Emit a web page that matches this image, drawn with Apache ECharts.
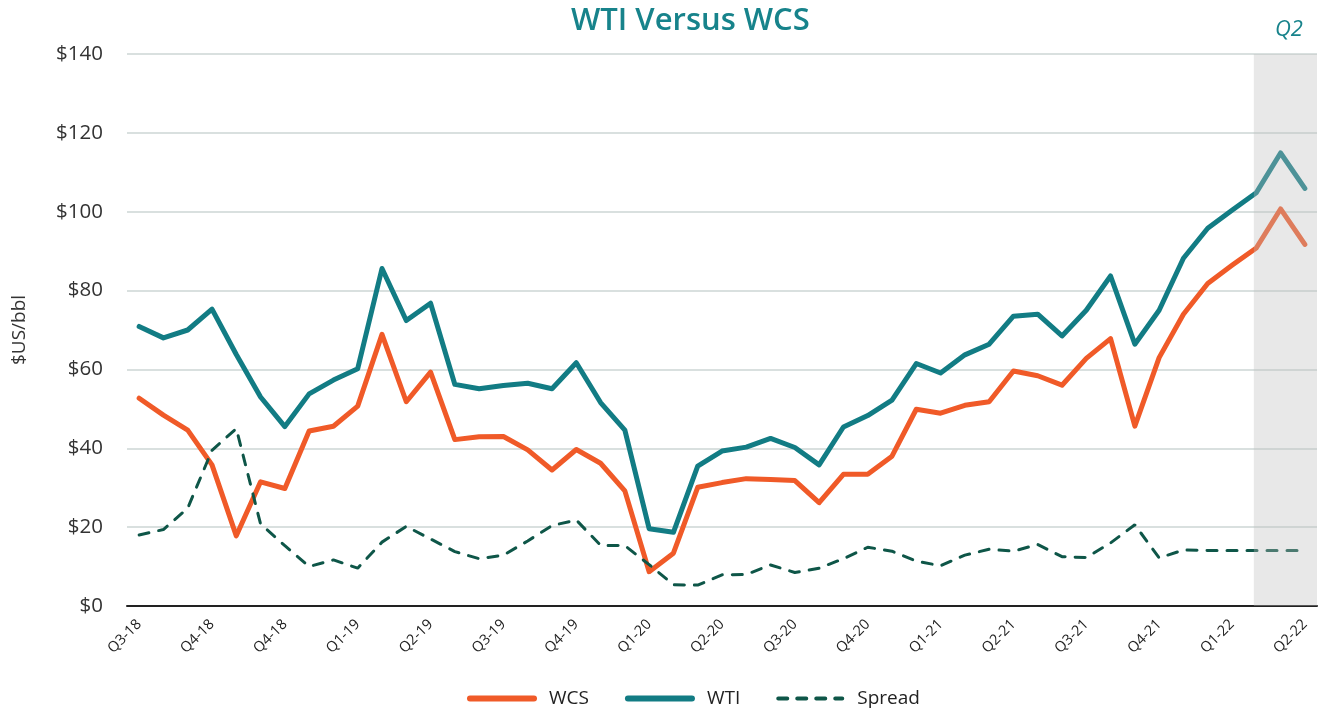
<!DOCTYPE html>
<html>
<head>
<meta charset="utf-8">
<script src="https://cdn.jsdelivr.net/npm/echarts@6/dist/echarts.min.js"></script>
<style>
html,body{margin:0;padding:0;background:#fff;}
#chart{width:1326px;height:713px;}
</style>
</head>
<body>
<div id="chart"></div>
<script>
const months = ['Jul-18','Aug-18','Sep-18','Oct-18','Nov-18','Dec-18','Jan-19','Feb-19','Mar-19','Apr-19','May-19','Jun-19','Jul-19','Aug-19','Sep-19','Oct-19','Nov-19','Dec-19','Jan-20','Feb-20','Mar-20','Apr-20','May-20','Jun-20','Jul-20','Aug-20','Sep-20','Oct-20','Nov-20','Dec-20','Jan-21','Feb-21','Mar-21','Apr-21','May-21','Jun-21','Jul-21','Aug-21','Sep-21','Oct-21','Nov-21','Dec-21','Jan-22','Feb-22','Mar-22','Apr-22','May-22','Jun-22','Jul-22'];
const tickLabels = ['Q3-18','Q4-18','Q4-18','Q1-19','Q2-19','Q3-19','Q4-19','Q1-20','Q2-20','Q3-20','Q4-20','Q1-21','Q2-21','Q3-21','Q4-21','Q1-22','Q2-22'];
const wcs = [52.7,48.4,44.6,35.8,17.8,31.5,29.8,44.4,45.6,50.7,68.9,51.8,59.3,42.2,42.9,43.0,39.6,34.5,39.7,36.2,29.2,8.7,13.4,30.1,31.3,32.3,32.1,31.8,26.2,33.4,33.4,38.0,49.9,48.9,50.9,51.8,59.6,58.4,56.0,62.8,67.8,45.6,63.0,74.0,81.8,86.4,90.8,100.7,91.7];
const wti = [70.9,68.0,70.0,75.3,63.8,53.0,45.5,53.8,57.3,60.2,85.6,72.4,76.8,56.2,55.1,55.9,56.5,55.1,61.7,51.6,44.6,19.6,18.7,35.5,39.3,40.3,42.5,40.2,35.8,45.4,48.3,52.2,61.5,59.1,63.7,66.4,73.5,74.0,68.5,75.0,83.7,66.4,75.0,88.2,95.8,100.4,104.8,114.9,105.9];
const spread = [18.0,19.4,24.8,39.5,45.0,20.8,15.3,10.0,11.7,9.6,16.2,20.2,17.0,13.8,12.0,12.9,16.5,20.4,21.8,15.4,15.3,10.5,5.4,5.3,7.9,8.0,10.4,8.5,9.6,12.0,14.9,13.9,11.4,10.2,12.9,14.4,13.9,15.6,12.5,12.3,16.0,20.6,12.2,14.2,14.1,14.1,14.1,14.1,14.1];
const shadeRange = [46.4, 49];

const FONT = '"Open Sans", "Noto Sans", sans-serif';
const C_WCS = '#f05a28', C_WTI = '#127c84', C_SPR = '#0e5648';
const chart = echarts.init(document.getElementById('chart'), null, {renderer: 'canvas'});
chart.setOption({
  animation: false,
  backgroundColor: '#ffffff',
  title: [{
    text: 'WTI Versus WCS',
    left: 566,
    top: 1,
    textStyle: {color: '#17838b', fontSize: 31, fontWeight: 600, fontFamily: FONT}
  }, {
    text: 'Q2',
    left: 1270,
    top: 14,
    textStyle: {color: '#17838b', fontSize: 22, fontStyle: 'italic', fontWeight: 'normal', fontFamily: FONT}
  }],
  legend: {
    data: [
      {name: 'WCS', lineStyle: {width: 6, cap: 'round'}},
      {name: 'WTI', lineStyle: {width: 6, cap: 'round'}},
      {name: 'Spread', lineStyle: {width: 4, type: [9, 10], cap: 'round'}}
    ],
    bottom: 0,
    left: 462,
    itemWidth: 64,
    itemHeight: 14,
    itemGap: 36,
    itemStyle: {opacity: 0},
    textStyle: {fontSize: 19, color: '#222', fontFamily: FONT, padding: [0, 0, 0, 10]}
  },
  grid: {left: 127, right: 9, top: 54, bottom: 107, containLabel: false},
  xAxis: [{
    type: 'category',
    data: months,
    boundaryGap: true,
    axisLine: {lineStyle: {color: '#222', width: 2}},
    axisTick: {interval: 2, length: 6, lineStyle: {color: '#222', width: 2}},
    axisLabel: {
      interval: 2,
      rotate: 45,
      margin: 16,
      fontSize: 14.5,
      color: '#222',
      fontFamily: FONT,
      formatter: function (v, i) { return tickLabels[Math.round(i / 3)] || ''; }
    },
    splitLine: {show: false}
  }, {
    type: 'value',
    min: 0,
    max: 49,
    show: false
  }],
  yAxis: {
    type: 'value',
    min: 0,
    max: 140,
    interval: 20,
    name: '$US/bbl',
    nameLocation: 'middle',
    nameGap: 98,
    nameRotate: 90,
    nameTextStyle: {fontSize: 19, color: '#333', fontFamily: FONT},
    axisLine: {show: false},
    axisTick: {show: false},
    axisLabel: {
      margin: 24,
      fontSize: 20.5,
      color: '#333',
      fontFamily: FONT,
      formatter: function (v) { return '$' + v; }
    },
    splitLine: {lineStyle: {color: '#d9e0df', width: 2}}
  },
  series: [{
    name: 'WCS',
    type: 'line',
    data: wcs,
    showSymbol: false,
    symbol: 'none',
    itemStyle: {color: C_WCS},
    lineStyle: {color: C_WCS, width: 5, cap: 'round', join: 'round'},
    z: 3
  }, {
    name: 'WTI',
    type: 'line',
    data: wti,
    showSymbol: false,
    symbol: 'none',
    itemStyle: {color: C_WTI},
    lineStyle: {color: C_WTI, width: 5, cap: 'round', join: 'round'},
    z: 3
  }, {
    name: 'Spread',
    type: 'line',
    data: spread,
    showSymbol: false,
    symbol: 'none',
    itemStyle: {color: C_SPR},
    lineStyle: {color: C_SPR, width: 3, type: [10, 10], cap: 'round'},
    z: 3
  }, {
    name: 'shade',
    type: 'line',
    xAxisIndex: 1,
    yAxisIndex: 0,
    data: [],
    silent: true,
    z: 10,
    markArea: {
      silent: true,
      z: 10,
      itemStyle: {color: 'rgba(190,190,190,0.35)'},
      data: [[{xAxis: shadeRange[0], yAxis: 140}, {xAxis: shadeRange[1], yAxis: 0}]]
    }
  }]
});
</script>
</body>
</html>
